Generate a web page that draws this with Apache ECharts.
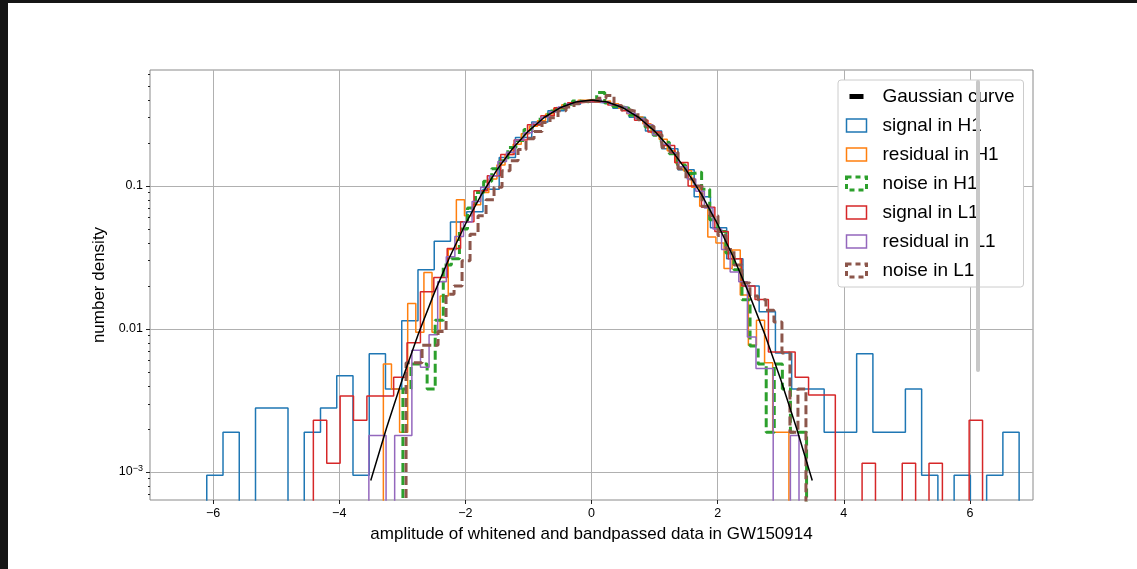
<!DOCTYPE html>
<html>
<head>
<meta charset="utf-8">
<script src="https://cdn.jsdelivr.net/npm/echarts@6/dist/echarts.min.js"></script>
<style>
  html, body { margin: 0; padding: 0; background: #fff; }
  #chart { width: 1137px; height: 569px; }
</style>
</head>
<body>
<div id="chart"></div>
<script>
// histogram ranges [first edge, last edge], 50 bins each
const signalH1Range = [-6.10, 6.78];
const residualH1Range = [-3.30, 3.13];
const noiseH1Range = [-2.99, 3.41];
const signalL1Range = [-4.41, 6.20];
const residualL1Range = [-3.53, 3.29];
const noiseL1Range = [-2.94, 3.40];

// number density per bin (0 = empty bin)
const signalH1 = [
  0.00095, 0.0019, 0, 0.0028, 0.0028, 0, 0.0019, 0.0028, 0.0047, 0.00095,
  0.0067, 0.0038, 0.0114, 0.026, 0.041, 0.056, 0.066, 0.095, 0.158, 0.218,
  0.280, 0.336, 0.372, 0.386, 0.376, 0.350, 0.302, 0.242, 0.182, 0.130,
  0.084, 0.051, 0.031, 0.020, 0.0132, 0.0068, 0.0038, 0.0038, 0.0019, 0.0019,
  0.0067, 0.0019, 0.0019, 0.0038, 0.00095, 0, 0.00095, 0, 0.00095, 0.0019
];
const residualH1 = [
  0.0057, 0.0038, 0.0019, 0.0151, 0.0095, 0.0248, 0.0095, 0.017, 0.036, 0.080,
  0.062, 0.074, 0.090, 0.112, 0.140, 0.166, 0.196, 0.232, 0.262, 0.286,
  0.318, 0.350, 0.370, 0.380, 0.398, 0.402, 0.388, 0.392, 0.376, 0.350,
  0.320, 0.304, 0.272, 0.236, 0.212, 0.176, 0.145, 0.128, 0.098, 0.072,
  0.044, 0.040, 0.0265, 0.0356, 0.0173, 0.0077, 0.0115, 0.0058, 0.0019, 0.0019
];
const noiseH1 = [
  0.0038, 0.0057, 0.0057, 0.0038, 0.0115, 0.028, 0.031, 0.050, 0.070, 0.090,
  0.108, 0.132, 0.150, 0.186, 0.208, 0.248, 0.270, 0.306, 0.334, 0.350,
  0.372, 0.392, 0.388, 0.400, 0.450, 0.380, 0.360, 0.350, 0.312, 0.294,
  0.258, 0.226, 0.202, 0.168, 0.140, 0.122, 0.125, 0.095, 0.058, 0.048,
  0.034, 0.026, 0.016, 0.0076, 0.0057, 0.0019, 0.0057, 0.0038, 0.0019, 0.0019
];
const signalL1 = [
  0.0023, 0.00115, 0.0034, 0.0023, 0.0034, 0.0034, 0.0046, 0.0080, 0.0182, 0.0229,
  0.0366, 0.0563, 0.0927, 0.118, 0.166, 0.210, 0.268, 0.310, 0.352, 0.382,
  0.390, 0.388, 0.368, 0.336, 0.288, 0.238, 0.192, 0.146, 0.100, 0.071,
  0.048, 0.031, 0.020, 0.0161, 0.0069, 0.0069, 0.0046, 0.00345, 0.00345, 0,
  0, 0.00115, 0, 0, 0.00115, 0, 0.00115, 0, 0, 0.0023
];
const residualL1 = [
  0.0018, 0.0018, 0, 0.0018, 0.0018, 0.0071, 0.0054, 0.0091, 0.0214, 0.032,
  0.0443, 0.056, 0.078, 0.098, 0.118, 0.148, 0.172, 0.210, 0.236, 0.276,
  0.302, 0.330, 0.356, 0.372, 0.390, 0.396, 0.402, 0.385, 0.370, 0.356,
  0.322, 0.296, 0.268, 0.228, 0.196, 0.170, 0.136, 0.112, 0.092, 0.070,
  0.050, 0.036, 0.025, 0.0214, 0.0088, 0.0053, 0.0053, 0, 0, 0.0018
];
const noiseL1 = [
  0.0058, 0.0058, 0.0077, 0.0077, 0.0096, 0.0175, 0.020, 0.030, 0.046, 0.062,
  0.080, 0.098, 0.128, 0.150, 0.180, 0.214, 0.240, 0.278, 0.300, 0.336,
  0.356, 0.376, 0.390, 0.396, 0.410, 0.430, 0.364, 0.340, 0.330, 0.290,
  0.262, 0.228, 0.186, 0.172, 0.132, 0.112, 0.100, 0.072, 0.062, 0.045,
  0.036, 0.028, 0.021, 0.017, 0.016, 0.0135, 0.0112, 0.0068, 0.0019, 0.0038
];

// reference gaussian curve
const gaussX = [-3.5, -3.25, -3, -2.75, -2.5, -2.25, -2, -1.75, -1.5, -1.25, -1, -0.75, -0.5, -0.25, 0,
  0.25, 0.5, 0.75, 1, 1.25, 1.5, 1.75, 2, 2.25, 2.5, 2.75, 3, 3.25, 3.5];
const gaussY = [0.000873, 0.00203, 0.00443, 0.00910, 0.01753, 0.03174, 0.05399, 0.08628, 0.12952, 0.18265,
  0.24197, 0.30114, 0.35207, 0.38667, 0.39894, 0.38667, 0.35207, 0.30114, 0.24197, 0.18265,
  0.12952, 0.08628, 0.05399, 0.03174, 0.01753, 0.00910, 0.00443, 0.00203, 0.000873];

const xTicks = [-6, -4, -2, 0, 2, 4, 6];
const yTicks = [0.001, 0.01, 0.1];
const yMinorTicks = [0.0007, 0.0008, 0.0009,
  0.002, 0.003, 0.004, 0.005, 0.006, 0.007, 0.008, 0.009,
  0.02, 0.03, 0.04, 0.05, 0.06, 0.07, 0.08, 0.09,
  0.2, 0.3, 0.4, 0.5, 0.6];

const FLOOR = 1e-6; // empty bins fall below the axis
const FONT = "'Liberation Sans', Arial, sans-serif";

const histPoints = (range, vals) => {
  const w = (range[1] - range[0]) / vals.length;
  const pts = [[range[0], FLOOR]];
  vals.forEach((v, i) => pts.push([range[0] + i * w, v > 0 ? v : FLOOR]));
  const last = vals[vals.length - 1];
  pts.push([range[1], last > 0 ? last : FLOOR]);
  pts.push([range[1], FLOOR]);
  return pts;
};

const hists = [
  { name: "signal in H1", range: signalH1Range, vals: signalH1, color: "#1f77b4", dashed: false },
  { name: "residual in H1", range: residualH1Range, vals: residualH1, color: "#ff7f0e", dashed: false },
  { name: "noise in H1", range: noiseH1Range, vals: noiseH1, color: "#2ca02c", dashed: true },
  { name: "signal in L1", range: signalL1Range, vals: signalL1, color: "#d62728", dashed: false },
  { name: "residual in L1", range: residualL1Range, vals: residualL1, color: "#9467bd", dashed: false },
  { name: "noise in L1", range: noiseL1Range, vals: noiseL1, color: "#8c564b", dashed: true },
];

const series = hists.map((h, i) => ({
  name: h.name,
  type: "line",
  step: "end",
  data: histPoints(h.range, h.vals),
  showSymbol: false,
  symbol: "none",
  silent: true,
  z: 2 + i,
  color: h.color,
  lineStyle: h.dashed
    ? { color: h.color, width: 3, type: [9, 4] }
    : { color: h.color, width: 1.5 },
}));

series.push({
  name: "Gaussian curve",
  type: "line",
  data: gaussX.map((x, i) => [x, gaussY[i]]),
  showSymbol: false,
  symbol: "none",
  silent: true,
  z: 20,
  color: "#000",
  lineStyle: { color: "#000", width: 1.5 },
});

const legendData = [
  {
    name: "Gaussian curve",
    icon: "path://M0,0L0.01,0M20,13L20,12.99M3,4H17V9H3Z",
    itemStyle: { color: "#000", borderWidth: 0 },
  },
].concat(hists.map((h) => ({
  name: h.name,
  icon: "rect",
  itemStyle: {
    color: "rgba(255,255,255,0)",
    borderColor: h.color,
    borderWidth: h.dashed ? 3 : 1.5,
    borderType: h.dashed ? [5, 4] : "solid",
  },
})));

const chart = echarts.init(document.getElementById("chart"));

chart.setOption({
  animation: false,
  backgroundColor: "#fff",
  textStyle: { fontFamily: FONT },
  grid: {
    left: 150, top: 70, width: 883, height: 430,
    show: true, borderColor: "#8a8a8a", borderWidth: 1,
    backgroundColor: "transparent",
    outerBoundsMode: "none",
  },
  xAxis: {
    type: "value",
    min: -7,
    max: 7,
    name: "amplitude of whitened and bandpassed data in GW150914",
    nameLocation: "middle",
    nameGap: 26,
    nameTextStyle: { fontSize: 17, color: "#000", fontFamily: FONT },
    axisLine: { show: false, onZero: false },
    axisTick: { show: true, customValues: xTicks, length: 4, lineStyle: { color: "#222", width: 1 } },
    axisLabel: {
      customValues: xTicks,
      margin: 7,
      fontSize: 12.5,
      color: "#000",
      fontFamily: FONT,
      formatter: (v) => String(v).replace("-", "\u2212"),
    },
    splitLine: { show: true, lineStyle: { color: "#b0b0b0", width: 1 } },
  },
  yAxis: [
    {
      type: "log",
      logBase: 10,
      min: 0.000637,
      max: 0.647,
      position: "left",
      name: "number density",
      nameLocation: "middle",
      nameGap: 33,
      nameTextStyle: { fontSize: 17, color: "#000", fontFamily: FONT },
      axisLine: { show: false, onZero: false },
      axisTick: { show: true, customValues: yTicks, length: 4, lineStyle: { color: "#222", width: 1 } },
      axisLabel: {
        customValues: yTicks,
        margin: 7,
        fontSize: 12.5,
        color: "#000",
        fontFamily: FONT,
        formatter: (v) => (v < 0.005 ? "{b|10}{s|\u22123}" : v < 0.05 ? "0.01" : "0.1"),
        rich: {
          b: { fontSize: 12.5, color: "#000", fontFamily: FONT, lineHeight: 16 },
          s: { fontSize: 9, color: "#000", fontFamily: FONT, verticalAlign: "top", lineHeight: 16, padding: [0, 0, 8, 0] },
        },
      },
      splitLine: { show: true, lineStyle: { color: "#b0b0b0", width: 1 } },
    },
    {
      type: "log",
      logBase: 10,
      min: 0.000637,
      max: 0.647,
      position: "left",
      axisLine: { show: false, onZero: false },
      axisTick: { show: true, customValues: yMinorTicks, length: 2, lineStyle: { color: "#222", width: 1 } },
      axisLabel: { show: false },
      splitLine: { show: false },
    },
  ],
  legend: {
    orient: "vertical",
    left: 838,
    top: 80,
    padding: [7, 9, 7, 7],
    itemWidth: 20,
    itemHeight: 13,
    itemGap: 10,
    selectedMode: false,
    backgroundColor: "#fff",
    borderColor: "#cccccc",
    borderWidth: 1,
    borderRadius: 3,
    textStyle: { fontSize: 19, color: "#000", fontFamily: FONT, padding: [0, 0, 0, 11] },
    data: legendData,
    z: 30,
  },
  graphic: [
    { type: "rect", shape: { x: 0, y: 0, width: 1137, height: 3 }, style: { fill: "#151515" }, z: 200, silent: true },
    { type: "rect", shape: { x: 0, y: 0, width: 8, height: 569 }, style: { fill: "#151515" }, z: 200, silent: true },
    {
      type: "line",
      shape: { x1: 978, y1: 82, x2: 978, y2: 370 },
      style: { stroke: "#c8c8c8", lineWidth: 4, lineCap: "round" },
      z: 150,
      silent: true,
    },
  ],
  series: series,
});
</script>
</body>
</html>
